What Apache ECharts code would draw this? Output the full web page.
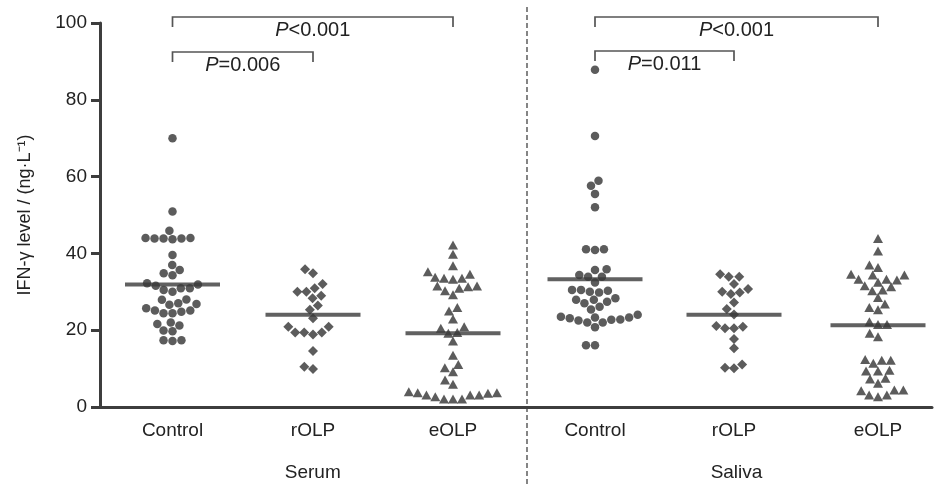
<!DOCTYPE html>
<html>
<head>
<meta charset="utf-8">
<script src="https://cdn.jsdelivr.net/npm/echarts@6/dist/echarts.min.js"></script>
<style>html,body{margin:0;padding:0;background:#fff}#c{width:936px;height:485px}</style>
</head>
<body>
<div id="c"></div>
<script>
// ---- data ----
const categories = ['Control', 'rOLP', 'eOLP'];
const sampleTypes = ['Serum', 'Saliva'];
const serumControl = [70.0, 50.9, 43.7, 43.9, 44.0, 44.0, 43.9, 43.9, 45.9, 39.6, 37.0, 35.7, 34.8, 34.3, 32.2, 30.5, 31.9, 30.9, 30.9, 30.0, 31.6, 28.0, 27.9, 27.0, 26.8, 25.7, 24.4, 25.1, 24.4, 24.8, 25.1, 26.6, 21.6, 21.2, 22.0, 19.9, 19.7, 17.4, 17.2, 17.4];
const serumROLP = [34.8, 35.9, 32.0, 30.9, 30.0, 30.0, 28.3, 29.0, 26.4, 25.3, 23.1, 20.9, 19.4, 18.9, 19.4, 19.4, 20.9, 14.6, 9.9, 10.5];
const serumEOLP = [42.2, 39.8, 36.8, 34.6, 33.5, 33.3, 33.5, 33.8, 35.2, 31.5, 31.3, 30.3, 29.2, 30.9, 31.5, 25.0, 25.9, 22.9, 20.9, 19.4, 20.5, 19.2, 17.2, 13.5, 11.1, 10.2, 9.2, 7.0, 5.9, 3.1, 3.1, 4.0, 3.6, 3.7, 3.7, 2.7, 3.1, 2.1, 2.1, 2.1];
const salivaControl = [87.8, 70.6, 58.9, 57.6, 55.5, 52.0, 41.1, 40.9, 41.1, 35.9, 35.7, 33.9, 33.9, 34.4, 32.4, 30.5, 30.5, 29.8, 30.3, 30.0, 28.3, 27.9, 27.4, 27.9, 27.0, 26.1, 25.4, 22.8, 22.5, 23.5, 22.0, 23.3, 24.0, 23.3, 22.0, 22.7, 23.1, 20.8, 16.1, 16.1];
const salivaROLP = [32.0, 33.9, 33.9, 34.6, 30.0, 29.4, 29.8, 30.7, 27.2, 25.5, 24.1, 20.9, 20.5, 20.5, 21.1, 17.7, 15.3, 11.1, 10.1, 10.2];
const salivaEOLP = [43.9, 40.6, 37.0, 36.3, 34.4, 33.3, 34.6, 33.1, 33.3, 34.4, 32.5, 31.6, 30.5, 30.3, 31.3, 28.5, 25.9, 25.3, 26.8, 22.2, 21.5, 21.5, 19.2, 18.3, 12.2, 11.4, 12.2, 12.4, 9.4, 9.4, 9.6, 7.3, 6.2, 7.5, 4.4, 3.1, 2.7, 3.1, 4.2, 4.4];
const centerLines = [31.9, 24.0, 19.2, 33.3, 24.0, 21.3];
const pLabels = ['P=0.006', 'P<0.001', 'P=0.011', 'P<0.001'];
const yAxisTitle = 'IFN-γ level / (ng·L⁻¹)';

// ---- layout (pixel units along the x axis, measured from the y axis) ----
const groupPos = [72.5, 213, 353, 495, 634, 778];
const dividerPos = 427;
const GRID = {left: 100, right: 4, top: 23, bottom: 78};
const PX_PER_UNIT = (485 - GRID.top - GRID.bottom) / 100;
const groups = [serumControl, serumROLP, serumEOLP, salivaControl, salivaROLP, salivaEOLP];
const symbols = ['circle', 'diamond', 'triangle', 'circle', 'diamond', 'triangle'];
const symSizes = [8.5, 10, [10, 9], 8.5, 10, [10, 9]];
const INK = '#333333';

function swarm(values, D) {
  const idx = values.map((v, i) => i).sort((a, b) => values[a] - values[b]);
  const placed = [], out = new Array(values.length);
  for (const i of idx) {
    const y = values[i] * PX_PER_UNIT;
    const forb = [];
    for (const p of placed) {
      const dy = Math.abs(p.y - y);
      if (dy < D) { const dx = Math.sqrt(D * D - dy * dy); forb.push([p.x - dx, p.x + dx]); }
    }
    const cands = [0];
    forb.forEach(f => cands.push(f[0], f[1]));
    cands.sort((a, b) => Math.abs(a) - Math.abs(b));
    let x = 0;
    for (const c of cands) {
      if (forb.every(f => c <= f[0] + 1e-6 || c >= f[1] - 1e-6)) { x = c; break; }
    }
    placed.push({x, y});
    out[i] = x;
  }
  return out;
}

const series = groups.map((vals, g) => {
  const off = swarm(vals, 9);
  return {
    type: 'scatter', symbol: symbols[g], symbolSize: symSizes[g],
    itemStyle: {color: INK}, silent: true, z: 3,
    data: vals.map((v, i) => [groupPos[g] + off[i], v])
  };
});
series.push({
  type: 'scatter', symbol: 'rect', symbolSize: [95, 4], silent: true, z: 4,
  itemStyle: {color: '#3a3a3a'},
  data: centerLines.map((v, g) => [groupPos[g], v])
});

const chart = echarts.init(document.getElementById('c'), null, {renderer: 'canvas'});
const FONT = 'Liberation Sans, Arial, sans-serif';
chart.setOption({
  animation: false,
  backgroundColor: '#fff',
  grid: GRID,
  xAxis: [{
    type: 'value', min: 0, max: 832,
    axisLine: {show: true, onZero: false, lineStyle: {color: '#3d3d3d', width: 3}},
    axisTick: {show: false}, splitLine: {show: false},
    axisLabel: {
      customValues: groupPos, margin: 14, fontSize: 19, color: '#222', fontFamily: FONT,
      formatter: v => { const g = groupPos.findIndex(p => Math.abs(p - v) < 1); return g < 0 ? '' : categories[g % 3]; }
    }
  }, {
    type: 'value', min: 0, max: 832, position: 'bottom',
    axisLine: {show: false}, axisTick: {show: false}, splitLine: {show: false},
    axisLabel: {
      customValues: [(groupPos[0] + groupPos[2]) / 2, (groupPos[3] + groupPos[5]) / 2],
      margin: 56, fontSize: 19, color: '#222', fontFamily: FONT,
      formatter: v => v < dividerPos ? sampleTypes[0] : sampleTypes[1]
    }
  }],
  yAxis: {
    type: 'value', min: 0, max: 100, interval: 20,
    name: yAxisTitle, nameLocation: 'middle', nameGap: 66, nameRotate: 90,
    nameTextStyle: {fontSize: 18, color: '#222', fontFamily: FONT},
    axisLine: {show: true, lineStyle: {color: '#3d3d3d', width: 3}},
    axisTick: {show: true, length: 9, lineStyle: {color: '#3d3d3d', width: 3}},
    splitLine: {show: false},
    axisLabel: {margin: 13, fontSize: 19, color: '#222', fontFamily: FONT}
  },
  series: series
});

// brackets, divider and P labels
const px = v => chart.convertToPixel({xAxisIndex: 0}, v);
const brackets = [
  {a: 0, b: 1, y: 52, text: pLabels[0]},
  {a: 0, b: 2, y: 17, text: pLabels[1]},
  {a: 3, b: 4, y: 51, text: pLabels[2]},
  {a: 3, b: 5, y: 17, text: pLabels[3]}
];
const graphics = [];
brackets.forEach(br => {
  const x1 = px(groupPos[br.a]), x2 = px(groupPos[br.b]);
  graphics.push({
    type: 'polyline', silent: true,
    shape: {points: [[x1, br.y + 10], [x1, br.y], [x2, br.y], [x2, br.y + 10]]},
    style: {stroke: '#555', lineWidth: 1.7, fill: null}
  });
  const rest = br.text.slice(1);
  graphics.push({
    type: 'text', silent: true, x: (x1 + x2) / 2, y: br.y + 13,
    style: {
      text: '{i|P}{n|' + rest + '}', align: 'center', verticalAlign: 'middle',
      rich: {
        i: {fontStyle: 'italic', fontSize: 20, fill: '#222', fontFamily: FONT},
        n: {fontSize: 20, fill: '#222', fontFamily: FONT}
      }
    }
  });
});
const dx = px(dividerPos);
graphics.push({
  type: 'line', silent: true,
  shape: {x1: dx, y1: 7, x2: dx, y2: 485},
  style: {stroke: '#444', lineWidth: 1.3, lineDash: [5, 3]}
});
chart.setOption({graphic: graphics});
</script>
</body>
</html>
